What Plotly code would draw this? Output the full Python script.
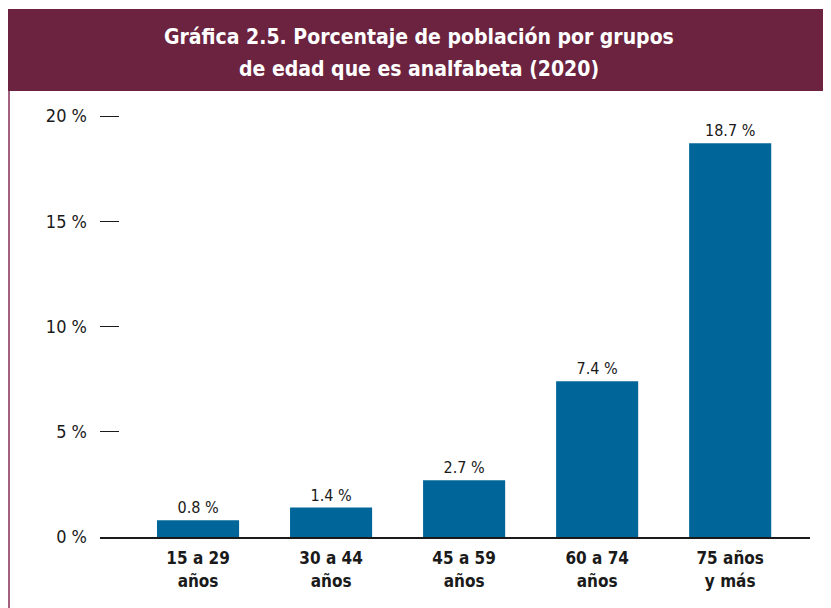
import plotly.graph_objects as go

categories = ["15 a 29<br>años", "30 a 44<br>años", "45 a 59<br>años", "60 a 74<br>años", "75 años<br>y más"]
values = [0.8, 1.4, 2.7, 7.4, 18.7]
y_ticks = [0, 5, 10, 15, 20]
y_tick_labels = ["0 %", "5 %", "10 %", "15 %", "20 %"]
title_lines = ["Gráfica 2.5. Porcentaje de población por grupos", "de edad que es analfabeta (2020)"]

FONT = "Liberation Sans Narrow, Arial Narrow, DejaVu Sans Condensed, sans-serif"
OFF = 8  # page body margin
W, H = 831 - OFF, 608 - OFF
L, R, T, B = 100 - OFF, 21, 100 - OFF, 71
pw, ph = W - L - R, H - T - B

def px(x):
    return (x - OFF - L) / pw

def py(y):
    return (H - B - (y - OFF)) / ph

fig = go.Figure()
fig.add_trace(go.Bar(
    x=list(range(len(categories))),
    y=values,
    width=0.617,
    marker=dict(color="#006699", line=dict(width=0)),
    texttemplate="%{y:.1f} %",
    textposition="outside",
    textfont=dict(family=FONT, size=16, color="#1a1a1a"),
    cliponaxis=False,
    hoverinfo="skip",
))

fig.update_layout(
    width=W, height=H,
    margin=dict(l=L, r=R, t=T, b=B),
    paper_bgcolor="white",
    plot_bgcolor="white",
    showlegend=False,
    font=dict(family=FONT, color="#1a1a1a"),
    xaxis=dict(
        range=[-0.737, 4.60],
        tickvals=list(range(len(categories))),
        ticktext=["<b>%s</b>" % c for c in categories],
        tickfont=dict(family=FONT, size=17, color="#1a1a1a"),
        ticklabelstandoff=5,
        showline=True, linecolor="#1a1a1a", linewidth=2,
        ticks="", showgrid=False, zeroline=False,
    ),
    yaxis=dict(
        range=[0, ph / 21.05],
        tickvals=y_ticks,
        ticktext=y_tick_labels,
        tickfont=dict(family=FONT, size=18, color="#1a1a1a"),
        ticks="inside", ticklen=19, tickwidth=1.2, tickcolor="#1a1a1a",
        ticklabelstandoff=12,
        showline=False, showgrid=False, zeroline=False,
    ),
    shapes=[
        dict(type="rect", xref="paper", yref="paper",
             x0=px(7), x1=px(835), y0=py(91), y1=py(9),
             fillcolor="#6B2340", line=dict(width=0), layer="above"),
        dict(type="line", xref="paper", yref="paper",
             x0=px(9), x1=px(9), y0=py(91), y1=py(612),
             line=dict(color="#A0607E", width=2)),
    ],
    annotations=[
        dict(text="<b>%s</b>" % title_lines[0], xref="paper", yref="paper",
             x=px(419), y=py(37), showarrow=False, xanchor="center", yanchor="middle",
             font=dict(family=FONT, size=21, color="white")),
        dict(text="<b>%s</b>" % title_lines[1], xref="paper", yref="paper",
             x=px(419), y=py(69), showarrow=False, xanchor="center", yanchor="middle",
             font=dict(family=FONT, size=21, color="white")),
    ],
)

fig.write_html("out.html")
